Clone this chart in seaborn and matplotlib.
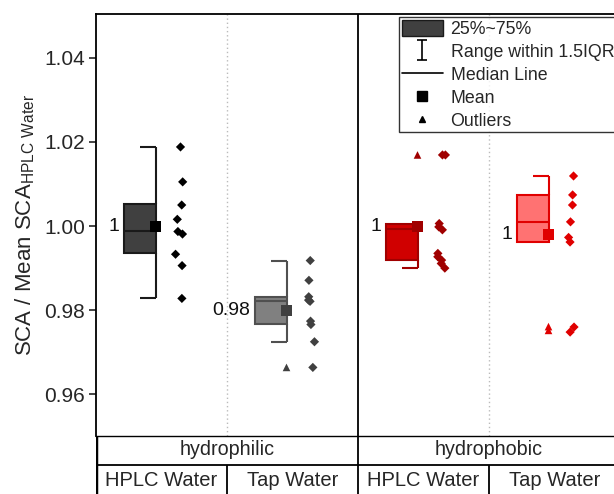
import numpy as np
import pandas as pd
import matplotlib
matplotlib.use("Agg")
import matplotlib.pyplot as plt
from matplotlib.lines import Line2D
from matplotlib.patches import Patch
from matplotlib.path import Path
import seaborn as sns

sns.set_style("white")
plt.rcParams['font.family'] = ['Liberation Sans', 'DejaVu Sans']
plt.rcParams['mathtext.fontset'] = 'custom'
plt.rcParams['mathtext.rm'] = 'Liberation Sans'

# ---------------- data ----------------
surfaces = ["hydrophilic", "hydrophobic"]
waters = ["HPLC Water", "Tap Water", "HPLC Water", "Tap Water"]

q1 = [0.9936, 0.9767, 0.9920, 0.9961]
median = [0.9988, 0.9822, 0.9993, 1.0010]
q3 = [1.0052, 0.9831, 1.0006, 1.0074]
whislo = [0.9829, 0.9725, 0.9901, 0.9961]
whishi = [1.0189, 0.9918, 1.0006, 1.0119]
means = [1.0000, 0.9800, 1.0000, 0.9979]
mean_labels = ["1", "0.98", "1", "1"]

points_hplc_phil = [1.0188, 1.0105, 1.0050, 1.0016, 0.9987, 0.9981, 0.9933, 0.9906, 0.9828]
points_tap_phil = [0.9918, 0.9871, 0.9832, 0.9824, 0.9821, 0.9774, 0.9766, 0.9725, 0.9664]
points_hplc_phob = [1.0169, 1.0169, 1.0006, 0.9998, 0.9991, 0.9935, 0.9927, 0.9919, 0.9911, 0.9900]
points_tap_phob = [1.0119, 1.0074, 1.0050, 1.0010, 0.9973, 0.9962, 0.9760, 0.9748]

outliers_tap_phil = [0.9664]
outliers_hplc_phob = [1.0169]
outliers_tap_phob = [0.9761, 0.9752]

yticks = [0.96, 0.98, 1.00, 1.02, 1.04]

# ---------------- styles ----------------
box_fill = ['#404040', '#808080', '#D00000', '#FF7272']
box_edge = ['#1a1a1a', '#505050', '#A00000', '#E00000']
pt_color = ['#000000', '#404040', '#A00000', '#E00000']

W, H = 614, 494
fig = plt.figure(figsize=(W / 100, H / 100), dpi=100)
x0, x1 = 96, 620
ytop, ybot = 14, 436
ax = fig.add_axes([x0 / W, (H - ybot) / H, (x1 - x0) / W, (ybot - ytop) / H])
tab = fig.add_axes([x0 / W, 0, (x1 - x0) / W, (H - ybot) / H])

px = 1 / 131.0  # data units per pixel on x
box_off = -22 * px
box_w = 32 * px
pt_off = 18 * px

all_points = [points_hplc_phil, points_tap_phil, points_hplc_phob, points_tap_phob]
all_out = [[], outliers_tap_phil, outliers_hplc_phob, outliers_tap_phob]

rng = np.random.default_rng(7)
rows = []
for i, vals in enumerate(all_points):
    for v in vals:
        rows.append({"x": i + pt_off + rng.uniform(-4, 4) * px, "y": v, "g": i})
df = pd.DataFrame(rows)

for i in range(4):
    c = i + box_off
    left = c - box_w / 2
    right = c + box_w / 2
    ax.bar(c, q3[i] - q1[i], bottom=q1[i], width=box_w, color=box_fill[i],
           edgecolor=box_edge[i], linewidth=1.5, zorder=3)
    ax.hlines(median[i], left, right, color=box_edge[i], lw=1.5, zorder=4)
    # half whiskers along right edge
    if whishi[i] > q3[i]:
        ax.vlines(right, q3[i], whishi[i], color=box_edge[i], lw=1.5, zorder=3)
        ax.hlines(whishi[i], c, right, color=box_edge[i], lw=1.5, zorder=3)
    if whislo[i] < q1[i]:
        ax.vlines(right, whislo[i], q1[i], color=box_edge[i], lw=1.5, zorder=3)
        ax.hlines(whislo[i], c, right, color=box_edge[i], lw=1.5, zorder=3)
    ax.scatter([right], [means[i]], marker='s', s=62, color=pt_color[i],
               edgecolor='none', zorder=5)
    if all_out[i]:
        ax.scatter([right] * len(all_out[i]), all_out[i], marker='^', s=30,
                   color=pt_color[i], edgecolor='none', zorder=5)
    ax.text(left - 4 * px, means[i], mean_labels[i], ha='right', va='center',
            fontsize=14, color='#111111')

sns.scatterplot(data=df, x="x", y="y", hue="g", palette=pt_color, marker='D',
                s=22, edgecolor='none', legend=False, ax=ax, zorder=5)

ax.set_xlim(-0.5, 3.5)
ax.set_ylim(0.9501, 1.0504)
ax.set_yticks(yticks)
ax.set_yticklabels([f"{t:.2f}" for t in yticks])
ax.set_xticks([])
ax.set_xlabel("")
ax.set_ylabel(r"SCA / Mean SCA$_{\mathrm{HPLC\ Water}}$", fontsize=16, labelpad=5)
ax.tick_params(axis='y', direction='out', length=5, width=1.2, labelsize=15,
               left=True, pad=3)
for s in ['left', 'top', 'bottom']:
    ax.spines[s].set_visible(True)
    ax.spines[s].set_color('black')
    ax.spines[s].set_linewidth(1.3)
ax.spines['right'].set_visible(False)
ax.spines['bottom'].set_linewidth(1.0)

ax.axvline(0.5, color='#bbbbbb', lw=1, ls=(0, (1, 2)), zorder=1)
ax.axvline(2.5, color='#bbbbbb', lw=1, ls=(0, (1, 2)), zorder=1)
ax.axvline(1.5, color='black', lw=1.3, zorder=2)

# legend
def ibeam():
    verts = [(-0.5, 1), (0.5, 1), (0, 1), (0, -1), (-0.5, -1), (0.5, -1)]
    codes = [Path.MOVETO, Path.LINETO, Path.MOVETO, Path.LINETO, Path.MOVETO, Path.LINETO]
    return Path(verts, codes)

handles = [
    Patch(facecolor='#404040', edgecolor='#1a1a1a', linewidth=1),
    Line2D([], [], marker=ibeam(), markersize=15, color='black', ls='none',
           markeredgewidth=1.2, fillstyle='none'),
    Line2D([], [], color='black', lw=1.2),
    Line2D([], [], marker='s', color='black', ls='none', markersize=6.5),
    Line2D([], [], marker='^', color='black', ls='none', markersize=5),
]
labels = ["25%~75%", "Range within 1.5IQR", "Median Line", "Mean", "Outliers"]
leg = fig.legend(handles, labels, loc='upper left',
                 bbox_to_anchor=(399 / W, 1 - 17 / H), fontsize=12.8,
                 frameon=True, fancybox=False, edgecolor='black',
                 handlelength=2.3, handleheight=1.0, labelspacing=0.28,
                 borderpad=0.15, handletextpad=0.45, borderaxespad=0)
leg.get_frame().set_linewidth(1.0)

# category table
tab.set_xlim(-0.5, 3.5)
tab.set_ylim(0, H - ybot)
tab.axis('off')
rowline = H - 465
tab.axhline(rowline, color='black', lw=1.3)
tab.vlines(-0.5, 0, H - ybot, color='black', lw=2.5)
tab.vlines(1.5, 0, H - ybot, color='black', lw=1.3)
tab.vlines([0.5, 2.5], 0, rowline, color='black', lw=1.3)
for j, s in enumerate(surfaces):
    tab.text(0.5 + 2 * j, (H - ybot + rowline) / 2 + 1, s, ha='center',
             va='center', fontsize=14.2)
for i, w in enumerate(waters):
    tab.text(i, rowline / 2 - 1, w, ha='center', va='center', fontsize=14.5)

fig.savefig("out.png", dpi=100)
